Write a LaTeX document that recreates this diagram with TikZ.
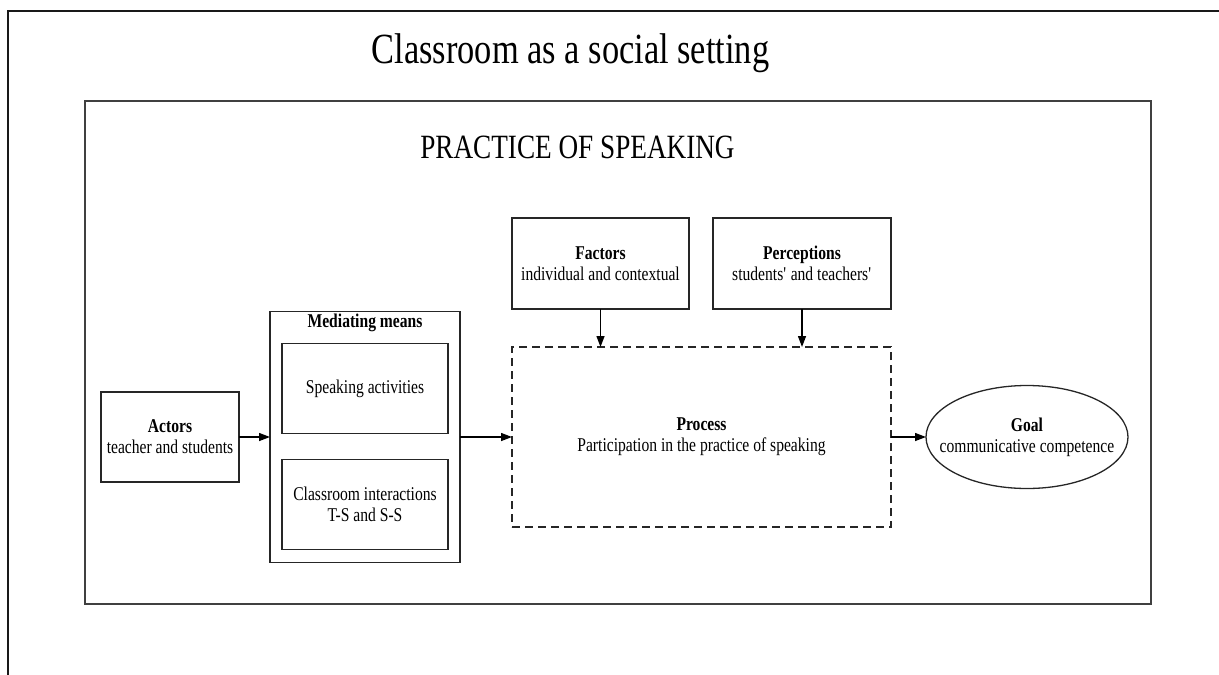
\documentclass[tikz,border=0pt]{standalone}
\usepackage{fontspec}
\setmainfont{Liberation Serif}[FakeStretch=0.8]
\usepackage{tikz}
\usetikzlibrary{arrows.meta,shapes,positioning,shapes.geometric}

\begin{document}
\begin{tikzpicture} [
		x=1pt, y=-1pt,
		font=\fontsize{19.5}{21}\selectfont,
		frame/.style = { rectangle, draw=black!75, line width=1.6pt, inner sep=0pt, outer sep=0pt },
		block/.style = { rectangle, draw=black!85, line width=1.3pt, align=center,
			inner sep=0pt, outer sep=0pt, minimum width=166pt, minimum height=90pt },
		process/.style = { block, dash pattern=on 8pt off 5pt,
			minimum width=379pt, minimum height=180pt },
		goal/.style = { ellipse, draw=black!85, line width=1.3pt, align=center,
			inner xsep=-17pt, inner ysep=0pt, outer sep=0pt, minimum width=202pt, minimum height=103pt },
		line/.style = { draw, line width=1.3pt, -{Triangle[length=11pt,width=8pt]} },
	]
	\useasboundingbox (0,0) rectangle (1219,675);
	% outer setting, only top and left are visible
	\draw [line width=2.5pt, black!90] (8,675) -- (8,11) -- (1219,11);
	\node [anchor=base, font=\fontsize{43}{50}\selectfont] (setting) at (570.5,63) {Classroom as a social setting};
	% practice frame
	\node [frame, minimum width=1066pt, minimum height=503pt] (practice) at (618,352.5) {};
	\node [anchor=base, font=\fontsize{34}{40}\selectfont] (practiceT) at (577.5,158) {PRACTICE OF SPEAKING};
	% Define nodes
	\begin{scope}
		\node [block, minimum width=138pt] (actors) at (170,437) {\textbf{Actors}\\teacher and students};
		\node [frame, draw=black!85, line width=1.3pt, minimum width=190pt, minimum height=251pt, right=31pt of actors] (means) {};
		\node [below=1pt of means.north, inner sep=1pt] (meansT) {\textbf{Mediating means}};
		\node [block, below=32pt of means.north] (speak) {Speaking activities};
		\node [block, below=26pt of speak] (inter) {Classroom interactions\\T-S and S-S};
		\node [process, right=52pt of means] (proc) {\textbf{Process}\\Participation in the practice of speaking};
		\node [block, minimum width=177pt, minimum height=91pt, above=38pt of proc, xshift=-101pt] (factors) {\textbf{Factors}\\individual and contextual};
		\node [block, minimum width=178pt, minimum height=91pt, above=38pt of proc, xshift=100.5pt] (percep) {\textbf{Perceptions}\\students\textquotesingle{} and teachers\textquotesingle};
		\node [goal, right=35pt of proc] (goal) {\textbf{Goal}\\communicative competence};
	\end{scope}
	% connect all nodes defined above
	\begin{scope} [every path/.style=line]
		\path (actors) -- (means);
		\path (means) -- (proc);
		\path (factors) -- (factors.south |- proc.north);
		\path (percep) -- (percep.south |- proc.north);
		\path (proc) -- (goal);
	\end{scope}
\end{tikzpicture}
\end{document}
